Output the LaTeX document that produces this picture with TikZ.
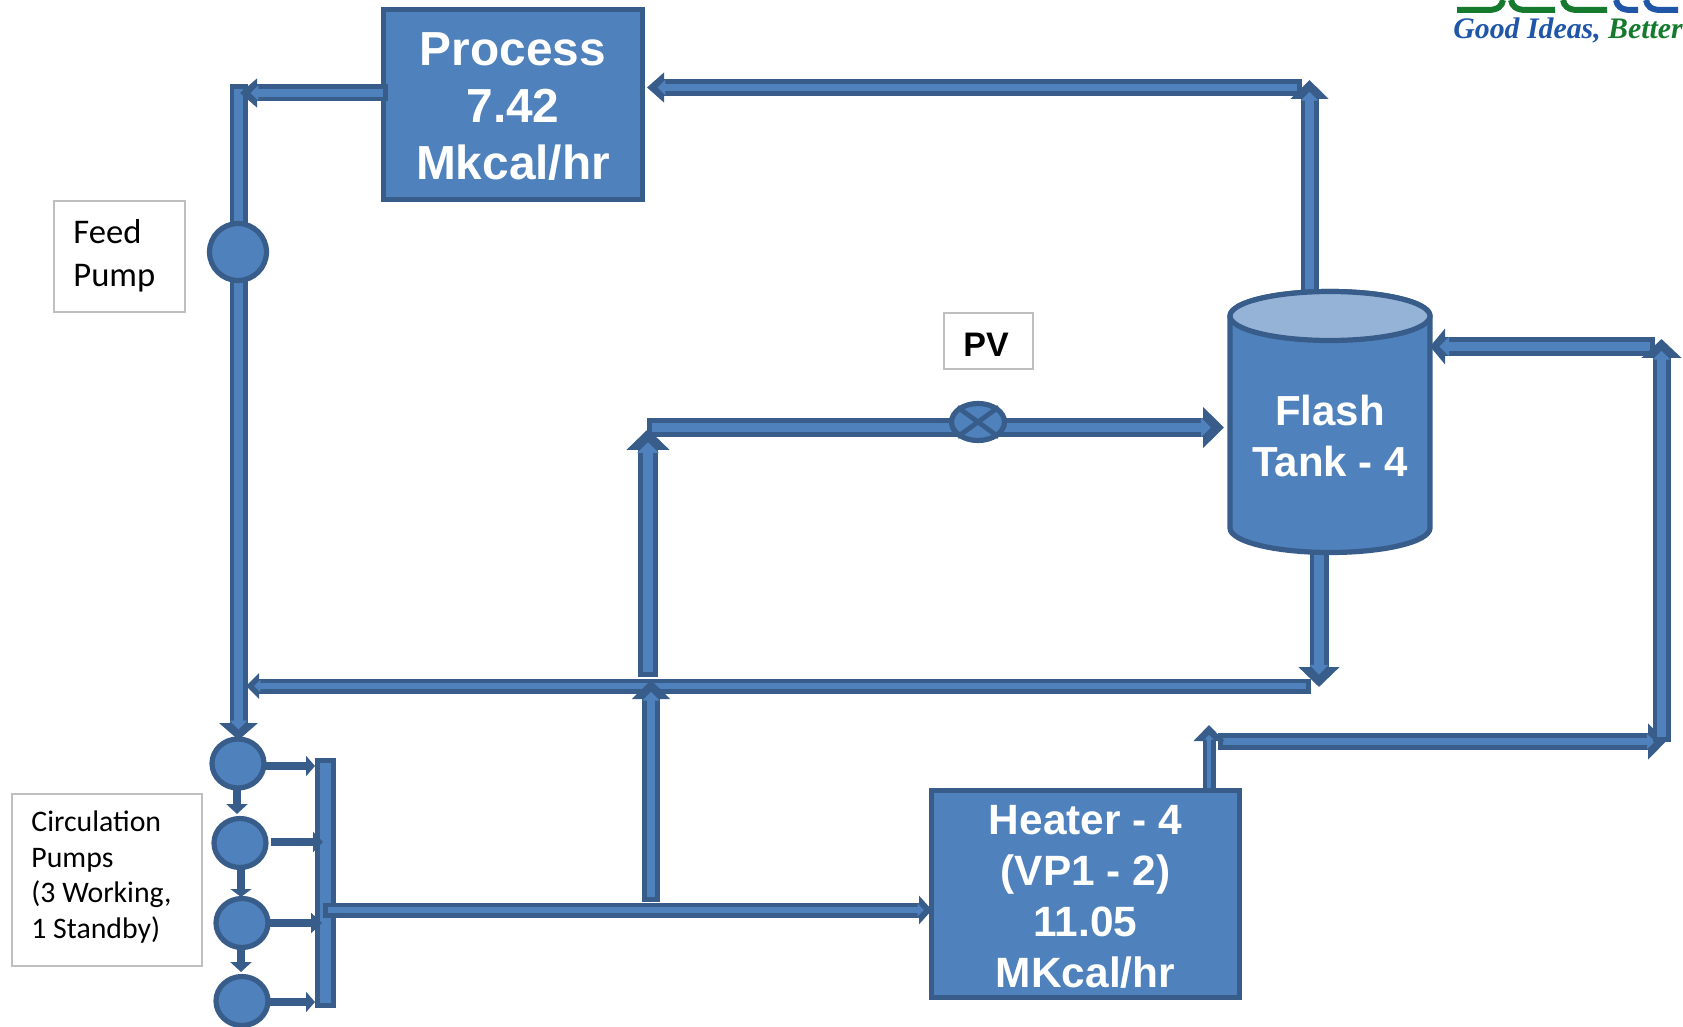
\documentclass[tikz,border=0pt]{standalone}
\usepackage{fontspec}
\setmainfont{Liberation Sans}
\newfontfamily\calibrilike{Carlito}
\newfontfamily\logofont{Liberation Serif}
\usetikzlibrary{arrows.meta,shapes.geometric}
\definecolor{pipefill}{HTML}{4F81BD}
\definecolor{pipeedge}{HTML}{385D8A}
\definecolor{tanktop}{HTML}{95B3D7}
\definecolor{boxgrey}{HTML}{BFBFBF}
\definecolor{logogreen}{HTML}{157A2E}
\definecolor{logoblue}{HTML}{1F56A8}
\tikzset{
  % args (pt; 1pt = 2px): outer width, inner width, head width, head length
  pipe/.style n args={4}{
    preaction={draw=pipeedge,line width=#1,shorten >=0pt,shorten <=0pt,
      -{Triangle[width=#3,length=#4]}},
    draw=pipefill,line width=#2+0.4pt,shorten >=0.62*#4,shorten <=2.3pt,
    -{Triangle[width=0pt 1.9,length=0pt 1.0]}},
  solidpipe/.style n args={3}{draw=pipeedge,line width=#1,
    -{Triangle[width=#2,length=#3]}},
  unit/.style={draw=pipeedge,line width=2.6pt,fill=pipefill,text=white,
    font=\bfseries,align=center,inner sep=0pt},
  smallpump/.style={unit,shape=ellipse,minimum width=26pt,minimum height=24.5pt},
  labelbox/.style={draw=boxgrey,line width=1pt,fill=white,inner sep=0pt},
  logobar/.style={line width=3pt,line cap=butt},
  whitetext/.style={align=center,inner sep=0pt,text=white}
}
\begin{document}
\begin{tikzpicture}[x=0.5pt,y=-0.5pt]
\useasboundingbox (0,0) rectangle (1683,1027);
\clip (0,0) rectangle (1683,1027);

% coordinates for the free ends of pipes
\coordinate (feedtop) at (238.5,84);
\coordinate (feedtip) at (238.5,740);
\coordinate (proctail) at (388,93);
\coordinate (proctip) at (240,93);
\coordinate (hoprightend) at (1302,87.5);
\coordinate (hopleft) at (647,87.5);
\coordinate (risetail) at (1309.5,295);
\coordinate (risetip) at (1309.5,80);
\coordinate (pvtail) at (647,427.5);
\coordinate (pvtip) at (1224,427.5);
\coordinate (uptail) at (648,677);
\coordinate (uptip) at (648,429);
\coordinate (rettail) at (1311,686);
\coordinate (rettip) at (246,686);
\coordinate (lowtail) at (651,902);
\coordinate (lowtip) at (651,680);
\coordinate (flashtail) at (1319,548);
\coordinate (flashtip) at (1319,687);
\coordinate (intail) at (1655,346.5);
\coordinate (intip) at (1430,346.5);
\coordinate (rvtail) at (1661.5,742);
\coordinate (rvtip) at (1661.5,339);
\coordinate (httail) at (1209,793);
\coordinate (httip) at (1209,725);
\coordinate (hbtail) at (1218,741.5);
\coordinate (hbtip) at (1666,741.5);
\coordinate (outtail) at (323,910);
\coordinate (outtip) at (932,910);
\coordinate (p1a) at (266,766);  \coordinate (m1) at (315,766);
\coordinate (p2a) at (271,842);  \coordinate (m2) at (323,842);
\coordinate (p3a) at (270,923);  \coordinate (m3) at (322,923);
\coordinate (p4a) at (270,1002); \coordinate (m4) at (315,1002);
\coordinate (d1a) at (237,784);  \coordinate (d1b) at (237,814);
\coordinate (d2a) at (241,868);  \coordinate (d2b) at (241,897);
\coordinate (d3a) at (241,943);  \coordinate (d3b) at (241,972);

% logo
\draw[logobar,logogreen] (1457,10) -- (1488,10) .. controls (1498,10) and (1502,6) .. (1503,0);
\draw[logobar,logogreen] (1511,0) .. controls (1512,6) and (1516,10) .. (1526,10) -- (1555,10);
\draw[logobar,logogreen] (1563,0) .. controls (1564,6) and (1568,10) .. (1578,10) -- (1607,10);
\draw[logobar,logoblue] (1616,0) .. controls (1617,6) and (1621,10) .. (1631,10) -- (1638,10);
\draw[logobar,logoblue] (1646,0) .. controls (1647,6) and (1651,10) .. (1661,10) -- (1678,10);
\node[anchor=base west,inner sep=0pt,font=\logofont\bfseries\itshape\fontsize{14.9pt}{17pt}\selectfont] (logotext) at (1453,38.5)
  {\textcolor{logoblue}{Good Ideas,} \textcolor{logogreen}{Better}};

% pipes under the units
\draw[pipe={9pt}{4pt}{19pt}{8.5pt}] (feedtop) -- (feedtip);
\node[unit,minimum width=129.4pt,minimum height=95pt] (process) at (513,104.5) {};
\node[whitetext,font=\bfseries\fontsize{23.9pt}{28.5pt}\selectfont] (processtext) at (513,107)
  {Process\\7.42\\Mkcal/hr};
\draw[pipe={8.5pt}{3.5pt}{14pt}{8.5pt}] (proctail) -- (proctip);
\draw[pipe={8.5pt}{3.5pt}{14.5pt}{8.5pt}] (hoprightend) -- (hopleft);
\draw[pipe={9pt}{4pt}{18.5pt}{9.5pt}] (risetail) -- (risetip);
\draw[pipe={9.5pt}{4.5pt}{20pt}{10.5pt}] (pvtail) -- (pvtip);
\draw[pipe={7.5pt}{2.8pt}{12.5pt}{6.5pt}] (rettail) -- (rettip);
\draw[pipe={10pt}{5pt}{21pt}{10.5pt}] (uptail) -- (uptip);
\draw[pipe={9pt}{4pt}{18.5pt}{9.5pt}] (lowtail) -- (lowtip);
\draw[pipe={9.5pt}{4.5pt}{20pt}{10pt}] (flashtail) -- (flashtip);
\draw[pipe={9.5pt}{4.5pt}{17.5pt}{7.5pt}] (intail) -- (intip);
\draw[pipe={8.5pt}{3.5pt}{17.5pt}{9pt}] (hbtail) -- (hbtip);
\draw[pipe={9pt}{4pt}{19.5pt}{9.5pt}] (rvtail) -- (rvtip);

% flash tank
\path[fill=pipefill,draw=pipeedge,line width=2.6pt]
  (1230,316) -- (1230,528) arc[start angle=180,end angle=360,x radius=100,y radius=-24.5]
  -- (1430,316) arc[start angle=0,end angle=180,x radius=100,y radius=-24.5] -- cycle;
\path[fill=tanktop,draw=pipeedge,line width=2.6pt]
  (1330,316) ellipse[x radius=100,y radius=24.5];
\node[whitetext,font=\bfseries\fontsize{21pt}{25.5pt}\selectfont] (tank) at (1330,436)
  {Flash\\Tank - 4};

% heater
\node[unit,minimum width=153.9pt,minimum height=103.4pt] (heater) at (1085.5,894) {};
\node[whitetext,font=\bfseries\fontsize{21.2pt}{25.5pt}\selectfont] (heatertext) at (1085.5,897)
  {Heater - 4\\(VP1 - 2)\\11.05\\MKcal/hr};
\draw[pipe={6.5pt}{2pt}{15pt}{8pt}] (httail) -- (httip);

% valve
\node[unit,shape=ellipse,minimum width=26.5pt,minimum height=18.5pt] (valve) at (978,422) {};
\draw[draw=pipeedge,line width=2.4pt] (valve.north west) -- (valve.south east);
\draw[draw=pipeedge,line width=2.4pt] (valve.north east) -- (valve.south west);

% feed pump
\node[unit,circle,minimum size=28.5pt] (feedpump) at (238,252) {};

% manifold and circulation pumps
\node[unit,minimum width=7.9pt,minimum height=122.4pt] (manifold) at (325.5,883) {};
\draw[pipe={7.5pt}{2.8pt}{14pt}{6.5pt}] (outtail) -- (outtip);
\draw[solidpipe={4pt}{10pt}{4.5pt}] (p1a) -- (m1);
\draw[solidpipe={4pt}{10pt}{5pt}] (p2a) -- (m2);
\draw[solidpipe={4pt}{10pt}{5.5pt}] (p3a) -- (m3);
\draw[solidpipe={4pt}{10pt}{4.5pt}] (p4a) -- (m4);
\draw[solidpipe={4pt}{10.5pt}{5pt}] (d1a) -- (d1b);
\draw[solidpipe={4pt}{10.5pt}{4pt}] (d2a) -- (d2b);
\draw[solidpipe={4pt}{10.5pt}{5pt}] (d3a) -- (d3b);
\node[smallpump] (pump1) at (238,763.5) {};
\node[smallpump] (pump2) at (240,843) {};
\node[smallpump] (pump3) at (242,923) {};
\node[smallpump] (pump4) at (242,1001) {};

% labels
\node[labelbox,minimum width=65.5pt,minimum height=55.5pt] (feedbox) at (119.5,257) {};
\node[anchor=west,align=left,inner sep=0pt,font=\calibrilike\fontsize{17.3pt}{21.5pt}\selectfont] (feedtext) at (73,255.5) {Feed\\Pump};
\node[labelbox,minimum width=44.5pt,minimum height=28pt] (pvbox) at (988,341) {};
\node[inner sep=0pt,font=\bfseries\fontsize{17pt}{20pt}\selectfont] (pvtext) at (986,345) {PV};
\node[labelbox,minimum width=95pt,minimum height=86pt] (circbox) at (107,880) {};
\node[anchor=west,align=left,inner sep=0pt,font=\calibrilike\fontsize{14.9pt}{17.7pt}\selectfont] (circtext) at (31,877)
  {Circulation\\Pumps\\(3 Working,\\1 Standby)};
\end{tikzpicture}
\end{document}
